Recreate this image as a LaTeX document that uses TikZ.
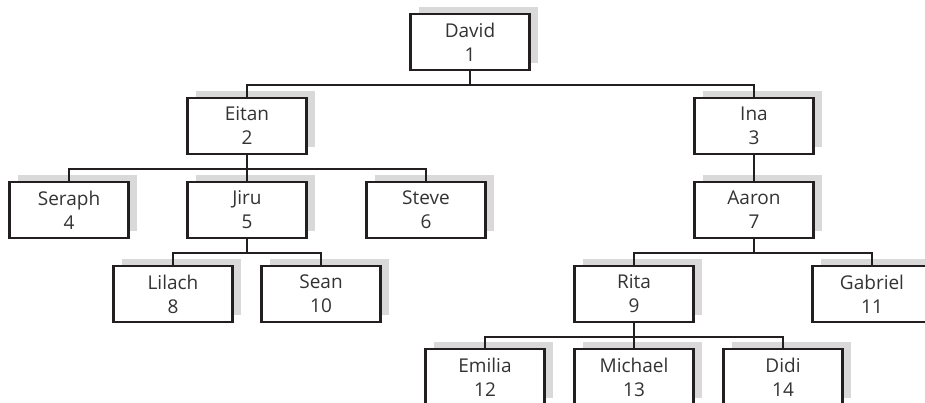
\documentclass[tikz,border=0pt]{standalone}
\usepackage{fontspec}
\setmainfont{Open Sans}
\usetikzlibrary{shadows}
\definecolor{shade}{RGB}{217,217,217}
\definecolor{ink}{RGB}{35,31,32}
\definecolor{txt}{RGB}{51,51,51}
\begin{document}
\begin{tikzpicture}[x=1pt,y=-1pt,
  person/.style={draw=ink, line width=2.4pt, fill=white, rectangle,
    minimum width=119pt, minimum height=56pt, inner sep=0pt,
    align=center, text=txt, font=\fontsize{19}{24}\selectfont,
    general shadow={fill=shade, draw=none, shadow xshift=8pt, shadow yshift=7pt}},
  conn/.style={draw=ink, line width=2.1pt}]
\clip (0,0) rectangle (925,402);
\fill[white] (0,0) rectangle (925,402);
% row 1
\node[person] (david) at (470,42) {David\\1};
% row 2
\node[person] (eitan) at (247,126) {Eitan\\2};
\node[person] (ina) at (754,126) {Ina\\3};
% row 3
\node[person] (seraph) at (69,210) {Seraph\\4};
\node[person] (jiru) at (247,210) {Jiru\\5};
\node[person] (steve) at (426,210) {Steve\\6};
\node[person] (aaron) at (754,210) {Aaron\\7};
% row 4
\node[person] (lilach) at (173,294) {Lilach\\8};
\node[person] (sean) at (321,294) {Sean\\10};
\node[person] (rita) at (634,294) {Rita\\9};
\node[person] (gabriel) at (872,294) {Gabriel\\11};
% row 5
\node[person] (emilia) at (485,377) {Emilia\\12};
\node[person] (michael) at (634,377) {Michael\\13};
\node[person] (didi) at (783,377) {Didi\\14};
% connectors
\foreach \p/\c in {david/eitan, david/ina, eitan/seraph, eitan/jiru, eitan/steve,
  ina/aaron, jiru/lilach, jiru/sean, aaron/rita, aaron/gabriel}
  \draw[conn] (\p.south) -- ++(0,14) -| (\c.north);
\foreach \c in {emilia, michael, didi}
  \draw[conn] (rita.south) -- ++(0,13.5) -| (\c.north);
\end{tikzpicture}
\end{document}
